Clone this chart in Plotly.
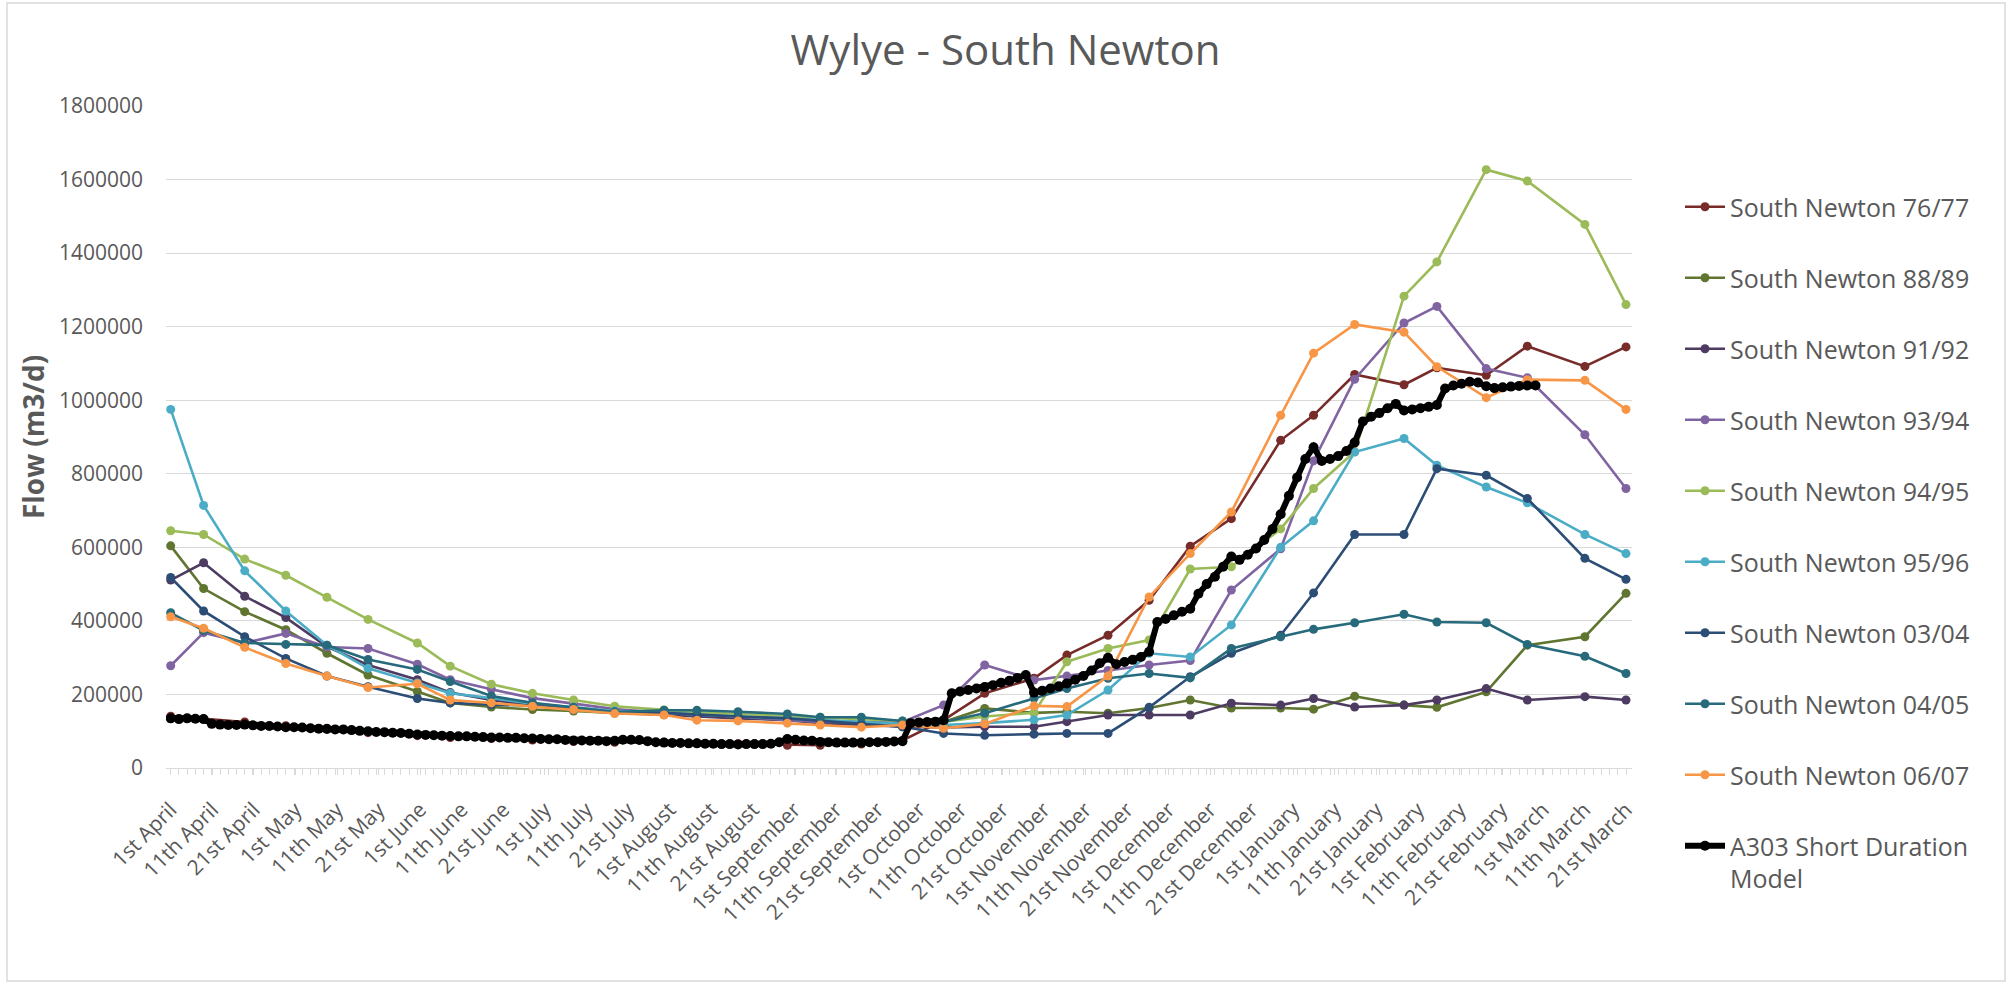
import numpy as np
import plotly.graph_objects as go

# ---------------- data ----------------
labels = ["1st April", "11th April", "21st April", "1st May", "11th May", "21st May",
          "1st June", "11th June", "21st June", "1st July", "11th July", "21st July",
          "1st August", "11th August", "21st August", "1st September", "11th September",
          "21st September", "1st October", "11th October", "21st October", "1st November",
          "11th November", "21st November", "1st December", "11th December", "21st December",
          "1st January", "11th January", "21st January", "1st February", "11th February",
          "21st February", "1st March", "11th March", "21st March"]

# category (model time-step) at which each South Newton reading sits
obs_step = [0, 4, 9, 14, 19, 24, 30, 34, 39, 44, 49, 54, 60, 64, 69, 75, 79, 84,
            89, 94, 99, 105, 109, 114, 119, 124, 129, 135, 139, 144, 150, 154, 160, 165, 172, 177]

# flows in thousand m3/d
sn_7677 = [141, 133, 125, 115, 108, 96, 88, 83, 80, 76, 72, 70, 70, 68, 66, 62, 62, 65, 75, 130,
           203, 244, 307, 361, 456, 603, 678, 891, 959, 1070, 1042, 1088, 1068, 1147, 1092, 1145]
sn_8889 = [604, 488, 425, 376, 312, 253, 208, 177, 166, 159, 155, 150, 148, 142, 138, 133, 128, 125,
           122, 125, 162, 150, 153, 149, 163, 185, 163, 163, 160, 195, 171, 165, 207, 334, 357, 475]
sn_9192 = [511, 558, 467, 409, 330, 280, 240, 205, 185, 170, 160, 150, 145, 140, 135, 130, 122, 118,
           112, 110, 112, 112, 126, 144, 144, 144, 176, 171, 189, 166, 171, 185, 216, 185, 194, 185]
sn_9394 = [278, 368, 340, 366, 329, 325, 282, 240, 214, 190, 175, 160, 150, 145, 140, 130, 125, 125,
           125, 171, 280, 239, 250, 265, 280, 292, 484, 596, 835, 1057, 1210, 1255, 1086, 1061, 906, 760]
sn_9495 = [645, 635, 568, 524, 464, 404, 340, 277, 228, 203, 185, 168, 158, 152, 147, 142, 138, 133,
           128, 125, 140, 150, 289, 325, 348, 541, 547, 650, 760, 860, 1283, 1376, 1627, 1596, 1478, 1260]
sn_9596 = [975, 714, 536, 427, 334, 271, 231, 203, 190, 175, 165, 155, 150, 145, 140, 135, 130, 125,
           120, 117, 122, 131, 144, 212, 312, 302, 389, 600, 672, 859, 896, 823, 764, 721, 635, 583]
sn_0304 = [518, 427, 357, 298, 250, 221, 189, 177, 172, 170, 160, 152, 150, 145, 140, 135, 128, 120,
           112, 94, 89, 92, 94, 94, 165, 248, 312, 361, 476, 635, 635, 814, 796, 733, 570, 513]
sn_0405 = [422, 374, 340, 336, 334, 295, 268, 235, 196, 177, 165, 152, 157, 157, 153, 147, 138, 138,
           128, 125, 149, 190, 216, 244, 257, 245, 325, 357, 377, 395, 418, 397, 395, 336, 304, 257]
sn_0607 = [411, 380, 328, 284, 250, 219, 229, 185, 177, 168, 159, 148, 144, 130, 128, 122, 117, 111,
           117, 108, 120, 169, 167, 250, 465, 583, 696, 959, 1128, 1206, 1185, 1091, 1007, 1056, 1054, 975]

# A303 Short Duration Model, one value per time-step, thousand m3/d
a303 = [135, 133, 135, 134, 133, 120, 118, 117, 117, 118,
        116, 114, 114, 113, 111, 111, 110, 108, 107, 106,
        105, 105, 103, 101, 100, 98, 97, 96, 95, 93,
        91, 90, 89, 88, 87, 86, 86, 85, 84, 83,
        83, 82, 82, 81, 80, 79, 78, 78, 76, 75,
        75, 74, 74, 73, 74, 77, 77, 76, 73, 70,
        69, 68, 68, 67, 67, 66, 66, 65, 65, 64,
        65, 65, 65, 66, 70, 79, 77, 75, 74, 71,
        70, 69, 69, 69, 69, 70, 70, 71, 72, 73,
        122, 124, 125, 126, 130, 203, 208, 212, 216, 220,
        225, 232, 237, 245, 253, 205, 210, 216, 222, 230,
        240, 250, 265, 285, 300, 282, 288, 294, 302, 316,
        397, 405, 415, 425, 433, 474, 500, 520, 547, 575,
        566, 580, 597, 620, 650, 690, 740, 790, 840, 872,
        835, 840, 848, 862, 885, 942, 955, 965, 978, 990,
        972, 975, 978, 982, 987, 1032, 1040, 1045, 1050, 1048,
        1038, 1033, 1035, 1037, 1039, 1040, 1040]

series = [
    ("South Newton 76/77", sn_7677, "#772C2A"),
    ("South Newton 88/89", sn_8889, "#5F7530"),
    ("South Newton 91/92", sn_9192, "#4D3B62"),
    ("South Newton 93/94", sn_9394, "#8064A2"),
    ("South Newton 94/95", sn_9495, "#9BBB59"),
    ("South Newton 95/96", sn_9596, "#4BACC6"),
    ("South Newton 03/04", sn_0304, "#2C4D75"),
    ("South Newton 04/05", sn_0405, "#276A7C"),
    ("South Newton 06/07", sn_0607, "#F79646"),
]

n_steps = max(obs_step)
label_x = np.linspace(0, n_steps, len(labels))

W, H = 2011, 986
L, R, T, B = 166, 379, 106, 218
GREY = "#595959"
FONT = "Open Sans"

fig = go.Figure()
for name, vals, col in series:
    fig.add_trace(go.Scatter(
        x=obs_step[:len(vals)], y=np.array(vals) * 1000, name=name, legendgroup=name,
        mode="lines+markers", line=dict(color=col, width=2.6),
        marker=dict(color=col, size=9)))

fig.add_trace(go.Scatter(
    x=np.arange(len(a303)), y=np.array(a303) * 1000,
    name="A303 Short Duration<br>Model", legendgroup="a303",
    mode="lines+markers", line=dict(color="#000000", width=6),
    marker=dict(color="#000000", size=10)))

pw = W - L - R
ph = H - T - B
def px2paper_x(px):
    return (px - L) / pw
def px2paper_y(py):
    return (H - B - py) / ph

# first point sits 4.7px inside the plot, last one 6px inside
step_px = (1626 - 170.7) / n_steps
x_lo = -(170.7 - L) / step_px
x_hi = n_steps + (W - R - 1626) / step_px

fig.update_layout(
    width=W, height=H,
    margin=dict(l=L, r=R, t=T, b=B, autoexpand=False),
    paper_bgcolor="white", plot_bgcolor="white",
    font=dict(family=FONT, color=GREY, size=21),
    title=dict(text="Wylye - South Newton", x=0.5, xanchor="center",
               y=1 - 50 / H, yanchor="middle", yref="container", xref="container",
               font=dict(family=FONT, size=42, color=GREY)),
    showlegend=True,
    legend=dict(x=px2paper_x(1680), xanchor="left", y=px2paper_y(184), yanchor="top",
                font=dict(family=FONT, size=25, color=GREY),
                tracegroupgap=35.5, itemwidth=40, valign="top", maxheight=900,
                bgcolor="rgba(0,0,0,0)"),
    xaxis=dict(range=[x_lo, x_hi], tickmode="array", tickvals=label_x, ticktext=labels,
               tickangle=-45, showgrid=False, zeroline=False,
               showline=True, linecolor="#D9D9D9", linewidth=1.3,
               ticks="outside", ticklen=6, tickcolor="#D9D9D9", tickwidth=1.3,
               ticklabelstandoff=14,
               minor=dict(dtick=1, tick0=0, ticks="outside", ticklen=6,
                          tickcolor="#D9D9D9", tickwidth=1.1, showgrid=False),
               tickfont=dict(family=FONT, size=21, color=GREY)),
    yaxis=dict(range=[0, 1800000], dtick=200000, tick0=0, tickformat="d",
               showgrid=True, gridcolor="#D9D9D9", gridwidth=1.3,
               zeroline=False, showline=False, ticks="", ticklabelstandoff=22,
               tickfont=dict(family=FONT, size=21, color=GREY),
               title=dict(text="<b>Flow (m3/d)</b>", standoff=6,
                          font=dict(family=FONT, size=28, color=GREY))),
)

# chart-area frame
fig.add_shape(type="rect", xref="paper", yref="paper",
              x0=px2paper_x(7), x1=px2paper_x(2005), y0=px2paper_y(981), y1=px2paper_y(3),
              line=dict(color="#D9D9D9", width=1.5), fillcolor="rgba(0,0,0,0)", layer="below")

fig.write_html("out.html", config={"displayModeBar": False},
               post_script="document.body.style.margin='0px';")
